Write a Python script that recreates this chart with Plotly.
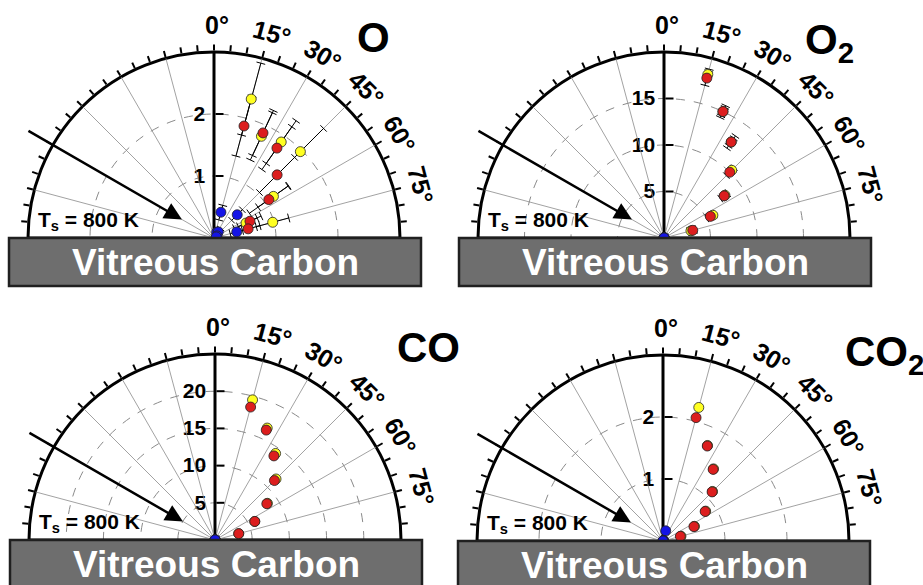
import math
import plotly.graph_objects as go

W, H = 923, 585
FONT = "Liberation Sans, Arial, sans-serif"

# ---------------- data ----------------
ANGLES = [15, 25, 35, 45, 55, 65, 75]          # emission angle (deg from normal)
PANEL_TITLES = ["O", "O<sub>2</sub>", "CO", "CO<sub>2</sub>"]
R_MAX = [3, 20, 25, 3]
R_TICKS = [[1, 2], [5, 10, 15], [5, 10, 15, 20], [1, 2]]
ANGLE_LABELS = [0, 15, 30, 45, 60, 75]
GRID_ANGLES = [-75, -60, -45, -30, -15, 15, 30, 45, 60, 75]
INCIDENCE_ANGLE = 60
SURFACE_LABEL = "Vitreous Carbon"
TEMP_LABEL = "T<sub>s</sub> = 800 K"

# O
O_red = [1.87, 1.87, 1.77, 1.44, 1.08, 0.64, 0.57]
O_red_err = [0.50, 0.40, 0.42, 0.40, 0.38, 0.20, 0.20]
O_yel = [2.32, 1.81, 1.89, 1.97, 1.17, 0.57, 0.98]
O_yel_err = [0.60, 0.42, 0.42, 0.53, 0.30, 0.20, 0.27]
O_blu = [0.43, 0.10, 0.12, 0.53, 0.06, 0.04, 0.38]
O_blu_err = [0.12, 0.08, 0.08, 0.12, 0.05, 0.05, 0.10]

# O2
O2_red = [17.8, 15.0, 12.6, 10.0, 7.9, 5.5, 3.2]
O2_red_err = [0.8, 0.7, 0.8, 0.5, 0.5, 0.4, 0.4]
O2_yel = [18.2, 15.0, 12.6, 10.3, 8.0, 5.8, 3.0]
O2_yel_err = [0.6, 0.5, 0.5, 0.4, 0.4, 0.3, 0.3]
O2_blu = [0.05, 0.03, 0.02, 0.02, 0.02, 0.01, 0.01]

# CO
CO_red = [18.5, 16.3, 13.8, 11.3, 8.5, 5.9, 3.3]
CO_yel = [19.5, 16.6, 14.2, 11.6, 8.6, 5.9, 3.3]
CO_blu = [0.05, 0.03, 0.02, 0.02, 0.02, 0.01, 0.01]

# CO2
CO2_red = [2.06, 1.69, 1.41, 1.12, 0.83, 0.55, 0.29]
CO2_yel = [2.23, 1.70, 1.42, 1.13, 0.84, 0.56, 0.30]
CO2_blu = [0.17, 0.01, 0.01, 0.01, 0.01, 0.0, 0.0]

SERIES = [
    [(O_yel, O_yel_err, "yellow"), (O_red, O_red_err, "red"), (O_blu, O_blu_err, "blue")],
    [(O2_yel, O2_yel_err, "yellow"), (O2_red, O2_red_err, "red"), (O2_blu, None, "blue")],
    [(CO_yel, None, "yellow"), (CO_red, None, "red"), (CO_blu, None, "blue")],
    [(CO2_yel, None, "yellow"), (CO2_red, None, "red"), (CO2_blu, None, "blue")],
]
COLORS = {"yellow": "#ffff22", "red": "#dc1e1e", "blue": "#1414e6"}

# ---------------- layout geometry ----------------
CENTERS = [(214, 238), (664, 238), (215, 540), (663, 541)]
R_PX = 186
TITLE_POS = [(355, 38), (803, 43), (395, 347), (843, 354)]
CAP_PX = 4.5
GRID_COLOR = "#8a8a8a"

fig = go.Figure()
layout_polars = {}
annotations = []
shapes = []


def px(x):
    return x / W


def py(y):
    return (H - y) / H


for i, (cx, cy) in enumerate(CENTERS):
    sub = "polar" if i == 0 else f"polar{i+1}"
    rmax = R_MAX[i]
    ppu = R_PX / rmax

    # radial spokes
    th, rr = [], []
    for a in GRID_ANGLES:
        th += [a, a, None]
        rr += [0, rmax, None]
    fig.add_trace(go.Scatterpolar(r=rr, theta=th, mode="lines", subplot=sub,
                                  line=dict(color=GRID_COLOR, width=0.8),
                                  hoverinfo="skip", showlegend=False))

    # error bars
    for vals, errs, col in SERIES[i]:
        if errs is None:
            continue
        th, rr = [], []
        for a, r, e in zip(ANGLES, vals, errs):
            lo, hi = max(r - e, 0), r + e
            th += [a, a, None]
            rr += [lo, hi, None]
            for rc in (lo, hi):
                if rc * ppu > 2:
                    d = math.degrees(CAP_PX / (rc * ppu))
                    th += [a - d, a + d, None]
                    rr += [rc, rc, None]
        fig.add_trace(go.Scatterpolar(r=rr, theta=th, mode="lines", subplot=sub,
                                      line=dict(color="black", width=1),
                                      hoverinfo="skip", showlegend=False))

    # markers
    for vals, errs, col in SERIES[i]:
        fig.add_trace(go.Scatterpolar(r=vals, theta=ANGLES, mode="markers", subplot=sub,
                                      cliponaxis=False,
                                      marker=dict(size=10, color=COLORS[col],
                                                  line=dict(color="#222", width=0.8)),
                                      showlegend=False))

    layout_polars[sub] = dict(
        domain=dict(x=[px(cx - R_PX), px(cx + R_PX)], y=[py(cy), py(cy - R_PX)]),
        sector=[0, 180],
        bgcolor="white",
        angularaxis=dict(rotation=90, direction="clockwise",
                         tickvals=list(range(-85, 90, 5)), showticklabels=False,
                         ticks="outside", ticklen=6, tickwidth=2, tickcolor="black",
                         showline=True, linecolor="black", linewidth=3,
                         showgrid=False, layer="below traces"),
        radialaxis=dict(range=[0, rmax], angle=90, tickangle=90, tickvals=R_TICKS[i],
                        ticks="inside", ticklen=8, tickwidth=2, tickcolor="black",
                        showline=True, linecolor="black", linewidth=3,
                        showgrid=True, gridcolor=GRID_COLOR, griddash="dash", gridwidth=0.8,
                        side="counterclockwise",
                        tickfont=dict(size=21, family=FONT, color="black", weight="bold"),
                        layer="below traces"),
    )

    # angle labels
    for a in ANGLE_LABELS:
        ang = math.radians(a + 0.7)
        rl = R_PX + 27
        annotations.append(dict(
            x=px(cx + rl * math.sin(ang)), y=py(cy - rl * math.cos(ang)),
            xref="paper", yref="paper", text=f"{a}°", showarrow=False,
            textangle=a, xanchor="center", yanchor="middle",
            font=dict(size=25, family=FONT, color="black", weight="bold")))

    # incident beam arrow
    inc = math.radians(INCIDENCE_ANGLE)
    tip_r, tail_r = 37, 216
    tipx, tipy = cx - tip_r * math.sin(inc), cy - tip_r * math.cos(inc)
    tailx, taily = cx - tail_r * math.sin(inc), cy - tail_r * math.cos(inc)
    annotations.append(dict(x=px(tipx), y=py(tipy), xref="paper", yref="paper",
                            ax=tailx - tipx, ay=taily - tipy, axref="pixel", ayref="pixel",
                            text="", showarrow=True, arrowhead=2, arrowsize=1.4,
                            arrowwidth=2.5, arrowcolor="black", standoff=0))

    # temperature label
    annotations.append(dict(x=px(cx - 178), y=py(cy - 17), xref="paper", yref="paper",
                            text=TEMP_LABEL, showarrow=False, xanchor="left",
                            yanchor="middle",
                            font=dict(size=21, family=FONT, color="black", weight="bold")))

    # panel title
    tx, ty = TITLE_POS[i]
    annotations.append(dict(x=px(tx), y=py(ty), xref="paper", yref="paper",
                            text=PANEL_TITLES[i], showarrow=False, xanchor="left",
                            yanchor="middle",
                            font=dict(size=42, family=FONT, color="black", weight="bold")))

    # surface block
    shapes.append(dict(type="rect", xref="paper", yref="paper", layer="above",
                       x0=px(cx - 205), x1=px(cx + 207), y0=py(cy + 48), y1=py(cy),
                       fillcolor="#6e6e6e", line=dict(color="#202020", width=2.5)))
    annotations.append(dict(x=px(cx + 1), y=py(cy + 24), xref="paper", yref="paper",
                            text=SURFACE_LABEL, showarrow=False, xanchor="center",
                            yanchor="middle",
                            font=dict(size=37, family=FONT, color="white", weight="bold")))

fig.update_layout(width=W, height=H, autosize=False,
                  margin=dict(l=0, r=0, t=0, b=0),
                  paper_bgcolor="white", plot_bgcolor="white",
                  showlegend=False, annotations=annotations, shapes=shapes,
                  **layout_polars)

fig.write_html("out.html")
